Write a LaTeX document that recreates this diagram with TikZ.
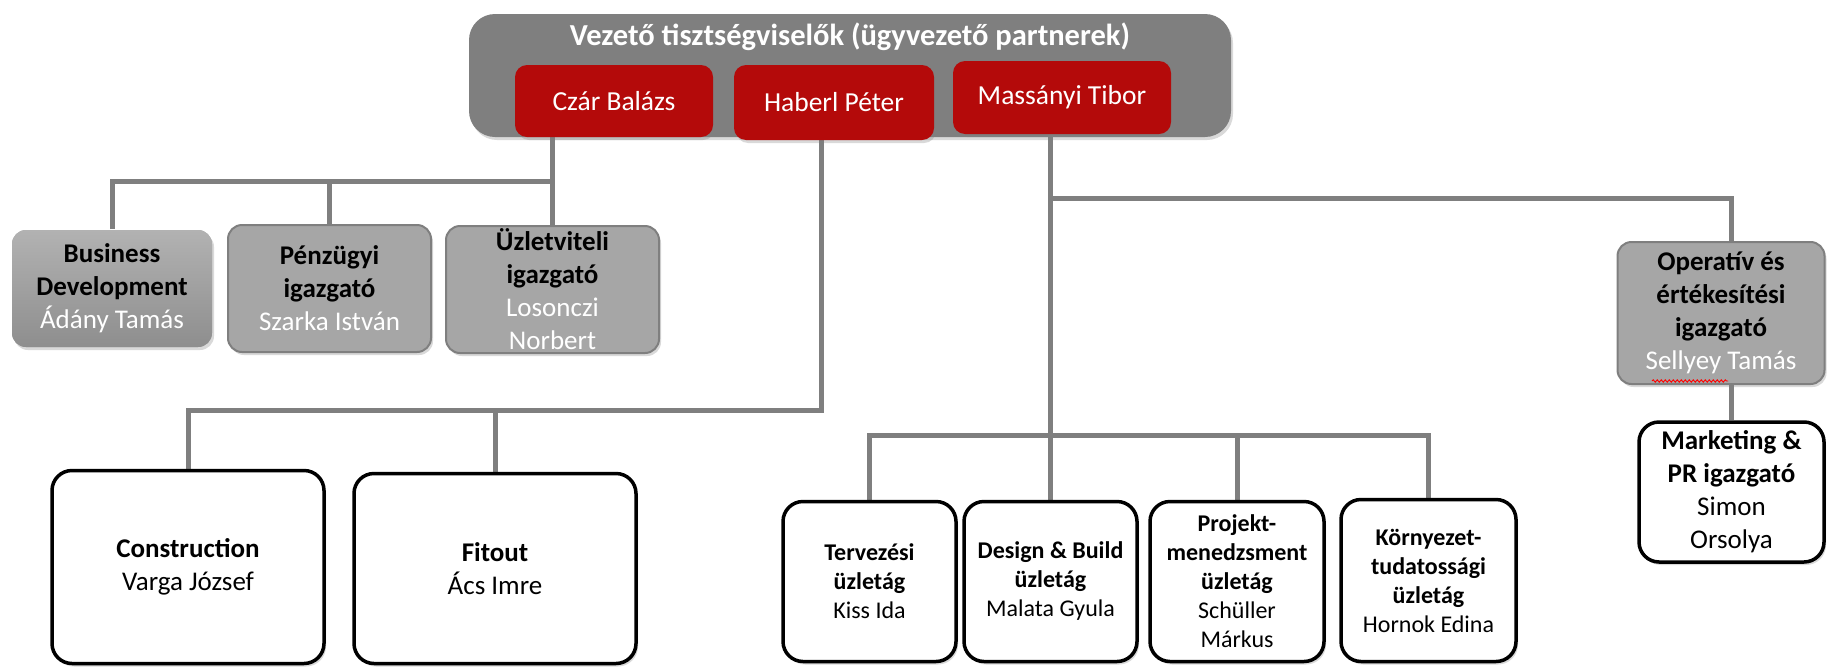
\documentclass[tikz,border=0pt]{standalone}
\usepackage{fontspec}
\setmainfont{Carlito}
\usetikzlibrary{shadows,decorations.pathmorphing,calc,backgrounds}
\definecolor{topgray}{HTML}{7F7F7F}
\definecolor{partnerred}{RGB}{180,10,10}
\definecolor{midgray}{HTML}{A6A6A6}
\definecolor{edgegray}{HTML}{7F7F7F}
\definecolor{linegray}{HTML}{7F7F7F}
\definecolor{bdtop}{HTML}{B2B2B2}
\definecolor{bdbot}{HTML}{8E8E8E}
\begin{document}
\begin{tikzpicture}[x=1pt,y=-1pt,
  box/.style={rectangle, inner sep=0pt, align=center},
  shad/.style={drop shadow={opacity=0.3, shadow xshift=2pt, shadow yshift=-3pt}},
  topbox/.style={box, fill=topgray, rounded corners=26pt, shad},
  partner/.style={box, fill=partnerred, text=white, rounded corners=12pt, shad,
    font=\fontsize{27.5}{33}\selectfont},
  graybox/.style={box, fill=midgray, draw=edgegray, line width=2pt, rounded corners=14pt, shad,
    font=\fontsize{27}{33}\selectfont},
  whitebox/.style={box, fill=white, draw=black, line width=3.5pt, rounded corners=20pt, shad,
    font=\fontsize{27}{33}\selectfont},
  smallbox/.style={whitebox, font=\fontsize{24}{29}\selectfont},
  conn/.style={draw=linegray, line width=5pt}
]
\useasboundingbox (0,0) rectangle (1827,667);

% top group
\node[topbox, minimum width=762, minimum height=123] (top) at (850,75.5) {};
\node[box, text=white, font=\bfseries\fontsize{30.5}{36}\selectfont] (title) at (850,37) {Vezető tisztségviselők (ügyvezető partnerek)};
\node[partner, minimum width=198, minimum height=72] (czar) at (614,101) {Czár Balázs};
\node[partner, minimum width=200, minimum height=75] (haberl) at (834,102.5) {Haberl Péter};
\node[partner, minimum width=218, minimum height=73] (massanyi) at (1062,97.5) {Massányi Tibor};

% second row
\node[graybox, draw=none, top color=bdtop, bottom color=bdbot, minimum width=200, minimum height=117] (bd) at (112,288.5)
  {\textbf{Business}\\\textbf{Development}\\\textcolor{white}{Ádány Tamás}};
\node[graybox, minimum width=203, minimum height=127] (penz) at (329.5,288.5)
  {\textbf{Pénzügyi}\\\textbf{igazgató}\\\textcolor{white}{Szarka István}};
\node[graybox, minimum width=213, minimum height=127] (uzlet) at (552.5,289.5)
  {\textbf{Üzletviteli}\\\textbf{igazgató}\\\textcolor{white}{Losonczi}\\\textcolor{white}{Norbert}};

% Construction / Fitout
\node[whitebox, minimum width=272, minimum height=193] (constr) at (188,567)
  {\textbf{Construction}\\Varga József};
\node[whitebox, minimum width=282, minimum height=190] (fitout) at (495,568.5)
  {\textbf{Fitout}\\Ács Imre};

% business lines
\node[smallbox, minimum width=173, minimum height=160] (terv) at (869.5,581.5)
  {\textbf{Tervezési}\\\textbf{üzletág}\\Kiss Ida};
\node[smallbox, minimum width=173, minimum height=160] (db) at (1050.5,581.5)
  {\textbf{Design \& Build}\\\textbf{üzletág}\\Malata Gyula};
\node[smallbox, minimum width=174, minimum height=160] (proj) at (1237,581.5)
  {\textbf{Projekt-}\\\textbf{menedzsment}\\\textbf{üzletág}\\Schüller\\Márkus};
\node[smallbox, minimum width=175, minimum height=162] (korny) at (1428.5,580.5)
  {\textbf{Környezet-}\\\textbf{tudatossági}\\\textbf{üzletág}\\Hornok Edina};

% right column
\node[graybox, minimum width=207, minimum height=142] (op) at (1721,313)
  {\textbf{Operatív és}\\\textbf{értékesítési}\\\textbf{igazgató}\\\textcolor{white}{Sellyey Tamás}};
\node[whitebox, minimum width=185, minimum height=140] (mkt) at (1731.5,492)
  {\textbf{Marketing \&}\\\textbf{PR igazgató}\\Simon\\Orsolya};

\draw[red, line width=0.9pt, decorate, decoration={snake, amplitude=1.2pt, segment length=4pt}]
  (1652,381) -- (1728,381);

% connectors
\coordinate (busA) at (0,181);
\coordinate (busB) at (0,410);
\coordinate (busC) at (0,435);
\coordinate (busD) at (0,198);
\begin{scope}[on background layer]
\draw[conn] (czar.south -| uzlet.north) -- (uzlet.north);
\draw[conn] (bd.north) |- (busA -| uzlet.north);
\draw[conn] (penz.north) -- (penz.north |- busA);

\draw[conn] ($(haberl.south)+(-13,0)$) |- (busB -| constr.north) -- (constr.north);
\draw[conn] (fitout.north |- busB) -- (fitout.north);

\draw[conn] (massanyi.south -| db.north) -- (db.north);
\draw[conn] (terv.north) |- (busC -| korny.north) -- (korny.north);
\draw[conn] (proj.north |- busC) -- (proj.north);
\draw[conn] (db.north |- busD) -| (op.north -| mkt.north);
\draw[conn] (op.south -| mkt.north) -- (mkt.north);
\end{scope}
\end{tikzpicture}
\end{document}
